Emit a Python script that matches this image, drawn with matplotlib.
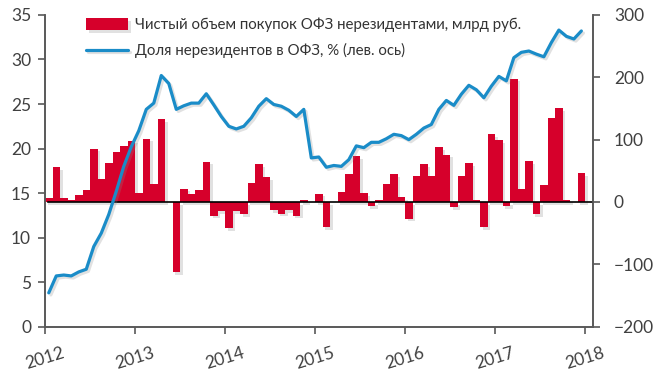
import numpy as np
import matplotlib
matplotlib.use("Agg")
from matplotlib import pyplot as plt
import matplotlib.patheffects as pe

plt.rcParams['font.family'] = ['Lato', 'Noto Sans', 'DejaVu Sans']

# monthly data, Jan 2012 .. Dec 2017
purchases = [6.4, 55.6, 6, 3.7, 10.6, 19.8, 85.7, 37.5, 62.7, 80.9, 89.4, 98.6,
             14.5, 101.8, 29.4, 132.3, 0, -112.5, 21.4, 12.8, 19.2, 64.8, -22, -15,
             -41.8, -15, -19.3, 30, 61, 39.6, -13.4, -18.8, -13.4, -22, 3.7, 0,
             13.3, -40, 0, 16, 45, 73.3, 14.5, -7, 3.7, 29.4, 45, 8,
             -26.8, 41.2, 61, 42, 88.4, 76, -8, 42.3, 62.7, 3.7, -40, 109,
             99, -7, 197.7, 21.4, 65.3, -19.3, 26.7, 135, 150.5, 3.7, 0, 46.6]
share = [3.8, 5.7, 5.8, 5.7, 6.15, 6.45, 9.0, 10.5, 12.6, 15.2, 18.0, 20.2,
         22.0, 24.4, 25.1, 28.2, 27.3, 24.4, 24.8, 25.1, 25.1, 26.15, 24.9, 23.6,
         22.5, 22.2, 22.5, 23.45, 24.75, 25.6, 24.95, 24.75, 24.3, 23.6, 24.4, 18.95,
         19.05, 17.9, 18.1, 18.0, 18.75, 20.3, 20.1, 20.7, 20.7, 21.1, 21.6, 21.45,
         21.0, 21.6, 22.3, 22.7, 24.4, 25.4, 24.85, 26.1, 27.1, 26.6, 25.7, 27.0,
         28.1, 27.6, 30.2, 30.8, 30.95, 30.6, 30.3, 31.9, 33.3, 32.6, 32.3, 33.2]
years = ['2012', '2013', '2014', '2015', '2016', '2017', '2018']

bar_label = 'Чистый объем покупок ОФЗ нерезидентами, млрд руб.'
line_label = 'Доля нерезидентов в ОФЗ, % (лев. ось)'

red = '#D6002B'
blue = '#1A8CC8'
grey = '#595959'

months = np.arange(len(purchases)) + 0.5

fig = plt.figure(figsize=(6.58, 3.79), dpi=100)
ax = fig.add_axes([0.0684, 0.138, 0.8328, 0.8226])
ax2 = ax.twinx()

bars = ax2.bar(months, purchases, width=1.0, color=red, label=bar_label, zorder=2)
for b in bars:
    b.set_path_effects([pe.SimplePatchShadow(offset=(2, -2), shadow_rgbFace='#888888', alpha=0.25),
                        pe.Normal()])
ax2.axhline(0, xmin=0.006, color='black', lw=1.2, zorder=3)

line, = ax.plot(months, share, color=blue, lw=2.3, label=line_label, solid_capstyle='round',
                path_effects=[pe.SimpleLineShadow(offset=(1.5, -1.5), shadow_color='#888888', alpha=0.25),
                              pe.Normal()])

ax.set_zorder(ax2.get_zorder() + 1)
ax.patch.set_visible(False)

ax.set_xlim(0, 73.05)
ax.set_ylim(0, 35)
ax2.set_ylim(-200, 300)
ax.set_yticks(np.arange(0, 36, 5))
ax2.set_yticks(np.arange(-200, 301, 100))
ax.set_xticks(np.arange(0, 73, 12))
ax.set_xticklabels(years, rotation=17)

for a in (ax, ax2):
    a.spines['top'].set_visible(False)
    for s in ('left', 'right', 'bottom'):
        a.spines[s].set_color(grey)
        a.spines[s].set_linewidth(1.2)
    a.tick_params(colors=grey, labelcolor='#404040', labelsize=12.5, length=5, width=1.2)
ax.tick_params(axis='y', pad=5)
ax2.tick_params(axis='y', pad=10)
ax.tick_params(axis='x', pad=8)
for t in ax.get_xticklabels():
    t.set_ha('center')

ax.legend([bars, line], [bar_label, line_label], loc='upper left',
          bbox_to_anchor=(0.05, 1.035), frameon=False, fontsize=10.8,
          handlelength=2.8, handleheight=0.85, handletextpad=0.45, labelspacing=0.75,
          labelcolor='#333333')

fig.savefig('out.png', dpi=100)
